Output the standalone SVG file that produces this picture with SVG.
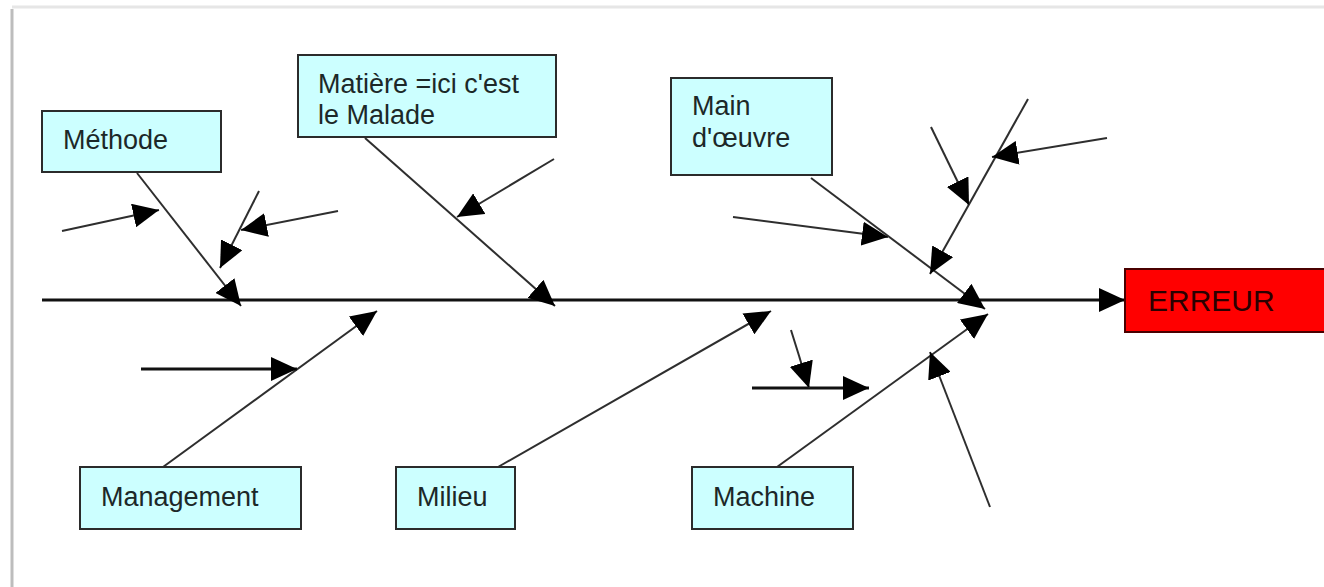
<svg xmlns="http://www.w3.org/2000/svg" width="1324" height="587" viewBox="0 0 1324 587">
  <defs>
    <marker id="head" viewBox="0 0 26 24" refX="26" refY="12" markerUnits="userSpaceOnUse" markerWidth="26" markerHeight="24" orient="auto">
      <path d="M0,0 L26,12 L0,24 z" fill="#000"/>
    </marker>
    <style>
      .box { fill: #ccffff; stroke: #2b2b2b; stroke-width: 2; }
      .err { fill: #ff0000; stroke: #4a0000; stroke-width: 2; }
      .lbl { font-family: "Liberation Sans", Arial, sans-serif; font-size: 27px; fill: #1c2828; }
      .big { font-family: "Liberation Sans", Arial, sans-serif; font-size: 30px; fill: #2a0000; }
      .thin { stroke: #2e2e2e; stroke-width: 2; fill: none; marker-end: url(#head); }
      .thick { stroke: #111; stroke-width: 3.2; fill: none; marker-end: url(#head); }
    </style>
  </defs>

  <!-- page background and edges -->
  <rect x="0" y="0" width="1324" height="587" fill="#fff"/>
  <line x1="12" y1="9" x2="12" y2="587" stroke="#bdbdbd" stroke-width="3"/>
  <line x1="12" y1="7" x2="1324" y2="7" stroke="#e6e6e6" stroke-width="3"/>

  <!-- connectors -->
  <g id="connectors">
    <!-- spine -->
    <line class="thick" x1="42" y1="300" x2="1125" y2="300"/>
    <!-- main branches -->
    <line class="thin" x1="137" y1="173" x2="241" y2="306"/>
    <line class="thin" x1="365" y1="138" x2="555" y2="306"/>
    <line class="thin" x1="811" y1="178" x2="985" y2="309"/>
    <line class="thin" x1="163" y1="467" x2="377" y2="311"/>
    <line class="thin" x1="498" y1="467" x2="771" y2="311"/>
    <line class="thin" x1="777" y1="467" x2="988" y2="314"/>
    <!-- secondary causes -->
    <line class="thin" x1="62" y1="231" x2="159" y2="210"/>
    <line class="thin" x1="259" y1="191" x2="220" y2="268"/>
    <line class="thin" x1="338" y1="211" x2="241" y2="230"/>
    <line class="thin" x1="554" y1="159" x2="457" y2="217"/>
    <line class="thin" x1="733" y1="217" x2="888" y2="237"/>
    <line class="thin" x1="1028" y1="99" x2="930" y2="274"/>
    <line class="thin" x1="931" y1="127" x2="969" y2="205"/>
    <line class="thin" x1="1107" y1="138" x2="992" y2="157"/>
    <line class="thick" x1="141" y1="369" x2="297" y2="369"/>
    <line class="thick" x1="752" y1="388" x2="869" y2="388"/>
    <line class="thin" x1="791" y1="330" x2="809" y2="388"/>
    <line class="thin" x1="990" y1="507" x2="930" y2="352"/>
  </g>

  <g id="methode">
    <rect class="box" x="42" y="111" width="179" height="61"/>
    <text class="lbl" x="63" y="149">Méthode</text>
  </g>
  <g id="matiere">
    <rect class="box" x="298" y="55" width="258" height="82"/>
    <text class="lbl" x="318" y="93">Matière =ici c'est</text>
    <text class="lbl" x="318" y="124">le Malade</text>
  </g>
  <g id="main-oeuvre">
    <rect class="box" x="671" y="78" width="161" height="97"/>
    <text class="lbl" x="692" y="115">Main</text>
    <text class="lbl" x="692" y="147">d'œuvre</text>
  </g>
  <g id="management">
    <rect class="box" x="80" y="467" width="221" height="62"/>
    <text class="lbl" x="101" y="506">Management</text>
  </g>
  <g id="milieu">
    <rect class="box" x="396" y="467" width="119" height="62"/>
    <text class="lbl" x="417" y="506">Milieu</text>
  </g>
  <g id="machine">
    <rect class="box" x="692" y="467" width="161" height="62"/>
    <text class="lbl" x="713" y="506">Machine</text>
  </g>
  <g id="erreur">
    <rect class="err" x="1125" y="269" width="210" height="63"/>
    <text class="big" x="1148" y="311">ERREUR</text>
  </g>
</svg>
